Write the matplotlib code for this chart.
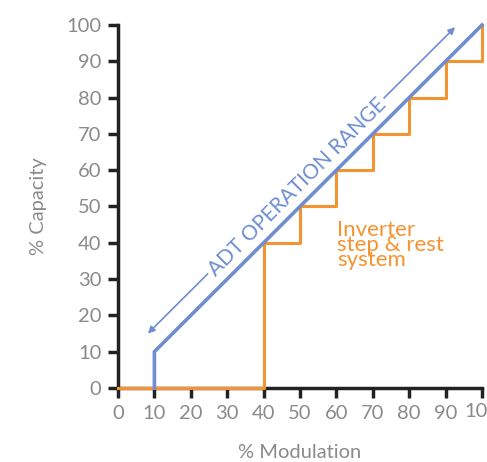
import matplotlib
matplotlib.use("Agg")
import matplotlib.pyplot as plt

plt.rcParams['font.family'] = ['Lato', 'DejaVu Sans']

ticks = [0, 10, 20, 30, 40, 50, 60, 70, 80, 90, 100]
xtick_labels = ['0', '10', '20', '30', '40', '50', '60', '70', '80', '90', '10']
ytick_labels = ['0', '10', '20', '30', '40', '50', '60', '70', '80', '90', '100']

# ADT operation range (continuous)
adt_x = [10, 10, 100]
adt_y = [0, 10, 100]

# Inverter step & rest system
inv_x = [0, 40, 40, 50, 50, 60, 60, 70, 70, 80, 80, 90, 90, 100, 100]
inv_y = [0, 0, 40, 40, 50, 50, 60, 60, 70, 70, 80, 80, 90, 90, 100]

blue = '#6E8ED0'
orange = '#F59331'
gray = '#8A8A8A'

fig = plt.figure(figsize=(4.87, 4.62), dpi=100)
ax = fig.add_axes([0.2423, 0.1602, 0.7474, 0.7857])

ax.plot(inv_x, inv_y, color=orange, lw=2.2, clip_on=False, zorder=3)
ax.plot(adt_x, adt_y, color=blue, lw=2.6, clip_on=False, zorder=4)

ax.annotate('', xy=(92.6, 99.4), xytext=(8.2, 15.0),
            arrowprops=dict(arrowstyle='<|-|>', color=blue, lw=1.2,
                            mutation_scale=10, shrinkA=0, shrinkB=0),
            annotation_clip=False)
ax.text(49.2, 55.3, 'ADT OPERATION RANGE', color=blue, fontsize=15,
        rotation=45, rotation_mode='anchor', ha='center', va='center',
        bbox=dict(facecolor='white', edgecolor='none', pad=2), zorder=5)

ax.text(60.3, 46.3, 'Inverter\nstep & rest\nsystem', color=orange,
        fontsize=16, ha='left', va='top', linespacing=0.68)

ax.set_xlim(0, 100)
ax.set_ylim(0, 100)
ax.set_xticks(ticks)
ax.set_xticklabels(xtick_labels[:-1] + [''])
ax.set_yticks(ticks)
ax.set_yticklabels(ytick_labels)

for s in ['top', 'right']:
    ax.spines[s].set_visible(False)
for s in ['left', 'bottom']:
    ax.spines[s].set_linewidth(2.5)
    ax.spines[s].set_color('#222222')

ax.tick_params(axis='both', direction='out', length=7, width=2.5,
               color='#222222', labelcolor=gray, labelsize=14.5, pad=5)

# last x tick label is cut at the right edge in the original ("10")
ax.annotate(xtick_labels[-1], xy=(ticks[-1], 0),
            xycoords=('data', 'axes fraction'),
            xytext=(-13, -10.6), textcoords='offset points',
            ha='left', va='top', color=gray, fontsize=14.5,
            annotation_clip=False)

ax.set_xlabel('% Modulation', color=gray, fontsize=14.5, labelpad=16)
ax.set_ylabel('% Capacity', color=gray, fontsize=14.5, labelpad=14)

fig.savefig('out.png', dpi=100)
